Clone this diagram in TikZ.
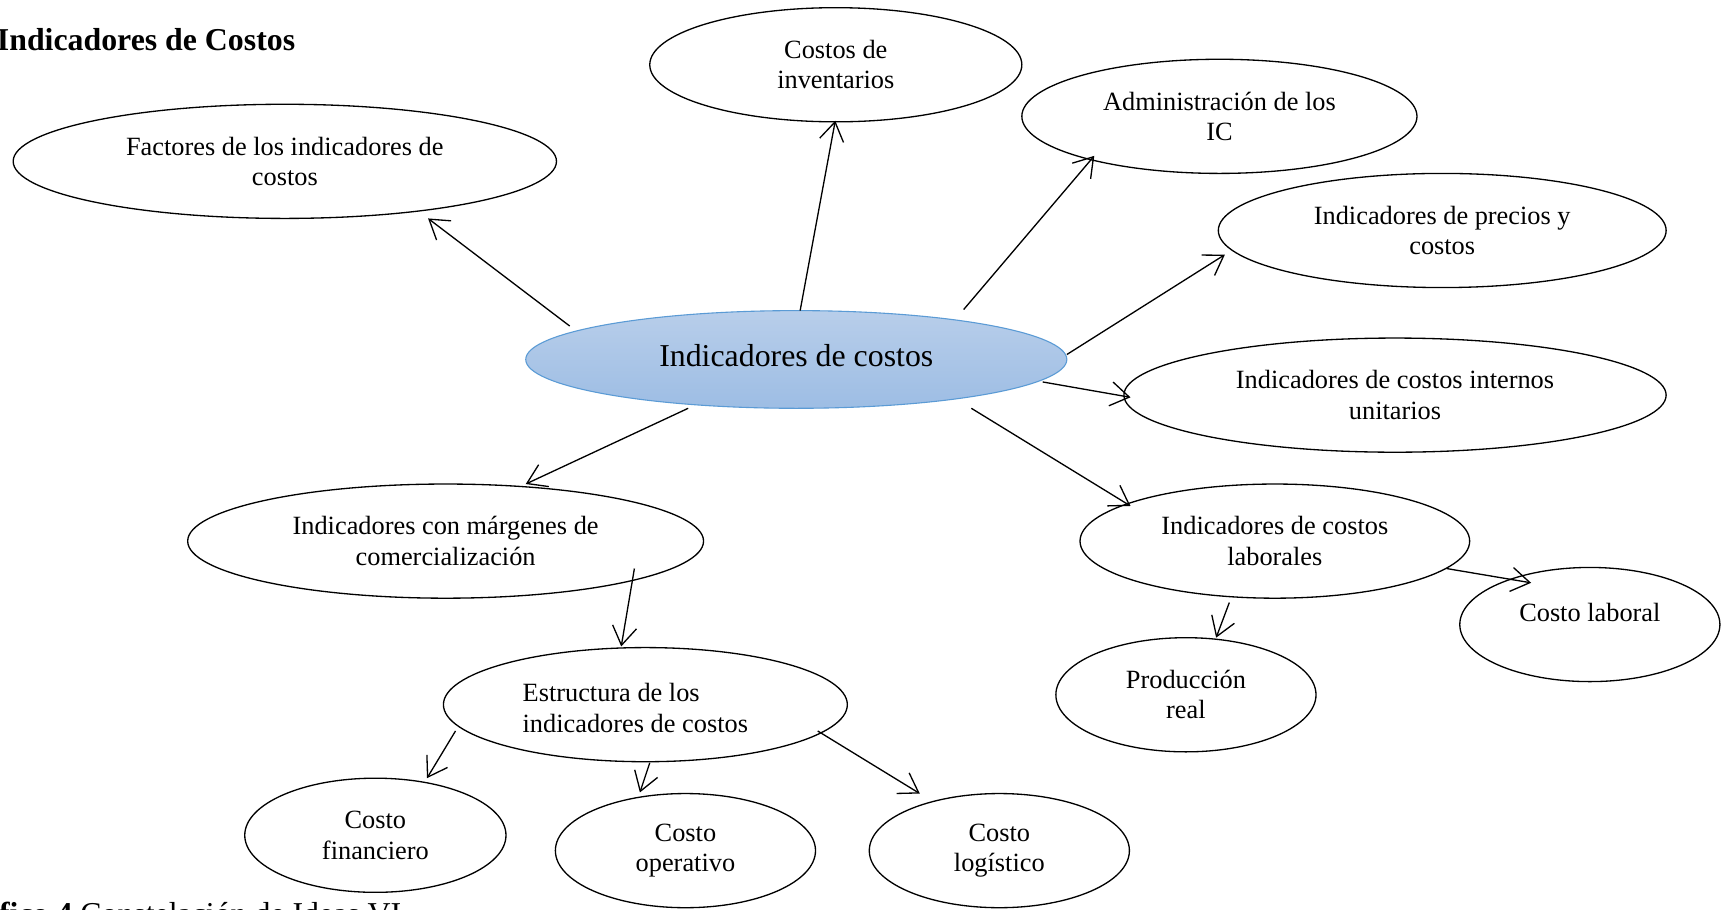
\documentclass[tikz,border=0pt]{standalone}
\usepackage{fontspec}
\setmainfont{Liberation Serif}
\usetikzlibrary{shapes.geometric,arrows.meta}
\tikzset{
  bub/.style={ellipse,draw=black,line width=1.2pt,inner sep=0pt,align=center,
    font=\fontsize{24}{27.6}\selectfont},
  txt/.style={inner sep=0pt,font=\fontsize{24}{27.6}\selectfont},
  arr/.style={line width=1.2pt,-{Straight Barb[length=17pt,width=22pt,line width=1.2pt]}},
}
\begin{document}
\begin{tikzpicture}[x=1pt,y=-1pt]
\useasboundingbox (0,0) rectangle (1568,829);
\clip (0,0) rectangle (1568,829);
\fill[white] (0,0) rectangle (1568,829);
% title and caption
\node[anchor=base west,inner sep=0pt,font=\fontsize{29}{33}\selectfont\bfseries] (title) at (-3,46) {Indicadores de Costos};
\node[anchor=base west,inner sep=0pt,font=\fontsize{29}{33}\selectfont] (cap) at (-1,842) {\textbf{fico 4} Constelación de Ideas VI};
% central
\node[ellipse,draw={rgb,255:red,91;green,155;blue,213},line width=1pt,
  top color={rgb,255:red,184;green,206;blue,234},bottom color={rgb,255:red,157;green,189;blue,228},
  minimum width=493pt,minimum height=89pt,inner sep=0pt,font=\fontsize{29}{33}\selectfont] (c) at (725.5,327.5) {\raisebox{8pt}{Indicadores de costos}};
% satellites
\node[bub,minimum width=495pt,minimum height=104pt] (f) at (259.5,147) {Factores de los indicadores de\\costos};
\node[bub,minimum width=339pt,minimum height=104pt] (inv) at (761.5,59) {Costos de\\inventarios};
\node[bub,minimum width=360pt,minimum height=104pt] (adm) at (1111,106) {Administración de los\\IC};
\node[bub,minimum width=408pt,minimum height=104pt] (pre) at (1314,210) {Indicadores de precios y\\costos};
\node[bub,minimum width=494pt,minimum height=104pt] (int) at (1271,360) {Indicadores de costos internos\\unitarios};
\node[bub,minimum width=470pt,minimum height=104pt] (mar) at (406,493) {Indicadores con márgenes de\\comercialización};
\node[bub,minimum width=355pt,minimum height=104pt] (lab) at (1161.5,493) {Indicadores de costos\\laborales};
\node[bub,minimum width=237pt,minimum height=104pt] (cl) at (1448.5,569) {};
\node[txt] (cltxt) at (1448.5,558) {Costo laboral};
\node[bub,minimum width=237pt,minimum height=104pt] (pr) at (1080.5,633) {Producción\\real};
\node[bub,minimum width=368pt,minimum height=104pt] (est) at (588,642) {};
\node[txt,anchor=west,align=left] (esttxt) at (476,645) {Estructura de los\\indicadores de costos};
\node[bub,minimum width=238pt,minimum height=104pt] (fin) at (342,761) {Costo\\financiero};
\node[bub,minimum width=237pt,minimum height=104pt] (op) at (624.5,775) {Costo\\operativo};
\node[bub,minimum width=237pt,minimum height=104pt] (log) at (910.5,775) {Costo\\logístico};
% connectors
\draw[arr] ([shift={(-206.5,-30.5)}]c.center) -- ([shift={(130.5,52)}]f.center);
\draw[arr] ([shift={(3.5,-44.5)}]c.center) -- ([shift={(-0.5,51)}]inv.center);
\draw[arr] ([shift={(152.5,-45.5)}]c.center) -- ([shift={(-114,36)}]adm.center);
\draw[arr] ([shift={(246.5,-4.5)}]c.center) -- ([shift={(-198,22)}]pre.center);
\draw[arr] ([shift={(224.5,20.5)}]c.center) -- ([shift={(-241,2)}]int.center);
\draw[arr] ([shift={(159.5,44.5)}]c.center) -- ([shift={(-131.5,-32)}]lab.center);
\draw[arr] ([shift={(-98.5,44.5)}]c.center) -- ([shift={(73,-52)}]mar.center);
\draw[arr] ([shift={(172,25)}]mar.center) -- ([shift={(-22,-53)}]est.center);
\draw[arr] ([shift={(-173,24)}]est.center) -- ([shift={(47,-52)}]fin.center);
\draw[arr] ([shift={(4,53)}]est.center) -- ([shift={(-41.5,-53)}]op.center);
\draw[arr] ([shift={(157,24)}]est.center) -- ([shift={(-72.5,-52)}]log.center);
\draw[arr] ([shift={(156.5,25)}]lab.center) -- ([shift={(-53.5,-38)}]cl.center);
\draw[arr] ([shift={(-41.5,56)}]lab.center) -- ([shift={(27.5,-52)}]pr.center);
\end{tikzpicture}
\end{document}
